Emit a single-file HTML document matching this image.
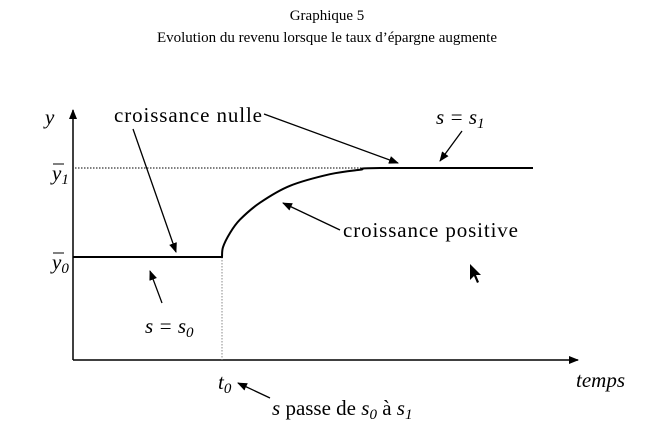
<!DOCTYPE html>
<html><head><meta charset="utf-8"><style>
body{margin:0;background:#fff}
svg text{font-family:"Liberation Serif",serif;fill:#000}
</style></head><body>
<svg width="654" height="427" xmlns="http://www.w3.org/2000/svg">
<defs><marker id="ah" markerWidth="10" markerHeight="8" refX="9" refY="4" orient="auto" markerUnits="userSpaceOnUse"><path d="M0,0 L10,4 L0,8 Z" fill="#000"/></marker></defs>
<text x="327" y="20" font-size="15" text-anchor="middle">Graphique 5</text>
<text x="327" y="42" font-size="15" text-anchor="middle">Evolution du revenu lorsque le taux d’épargne augmente</text>
<line x1="73" y1="360" x2="73" y2="110" stroke="#000" stroke-width="1.5" marker-end="url(#ah)"/>
<line x1="73" y1="360" x2="578" y2="360" stroke="#000" stroke-width="1.5" marker-end="url(#ah)"/>
<line x1="75" y1="168" x2="533" y2="168" stroke="#000" stroke-width="1" stroke-dasharray="1.5,1.5"/>
<line x1="222" y1="257" x2="222" y2="360" stroke="#888" stroke-width="1" stroke-dasharray="1.5,1.5"/>
<path id="curve" fill="none" stroke="#000" stroke-width="2"/>
<text x="45" y="124" font-size="21" font-style="italic">y</text>
<text x="52" y="180" font-size="21" font-style="italic">y<tspan font-size="15" dy="4">1</tspan></text>
<line x1="53" y1="164" x2="64" y2="164" stroke="#000" stroke-width="1"/>
<text x="52" y="269" font-size="21" font-style="italic">y<tspan font-size="15" dy="4">0</tspan></text>
<line x1="53" y1="253" x2="64" y2="253" stroke="#000" stroke-width="1"/>
<text x="218" y="389" font-size="21" font-style="italic">t<tspan font-size="15" dy="4">0</tspan></text>
<text x="576" y="387" font-size="21" font-style="italic">temps</text>
<text x="114" y="122" font-size="21" textLength="148">croissance nulle</text>
<text x="343" y="237" font-size="21" textLength="175">croissance positive</text>
<text x="436" y="124" font-size="21" font-style="italic">s = s<tspan font-size="15" dy="4">1</tspan></text>
<text x="145" y="333" font-size="21" font-style="italic">s = s<tspan font-size="15" dy="4">0</tspan></text>
<text x="272" y="415" font-size="21"><tspan font-style="italic">s</tspan> passe de <tspan font-style="italic">s</tspan><tspan font-size="15" font-style="italic" dy="4">0</tspan><tspan dy="-4"> à </tspan><tspan font-style="italic">s</tspan><tspan font-size="15" font-style="italic" dy="4">1</tspan></text>
<g stroke="#000" stroke-width="1.3" fill="none">
<line x1="133" y1="129" x2="176" y2="252" marker-end="url(#ah)"/>
<line x1="264" y1="114" x2="398" y2="163" marker-end="url(#ah)"/>
<line x1="462" y1="131" x2="440" y2="161" marker-end="url(#ah)"/>
<line x1="340" y1="230" x2="283" y2="203" marker-end="url(#ah)"/>
<line x1="162" y1="303" x2="150" y2="271" marker-end="url(#ah)"/>
<line x1="270" y1="398" x2="238" y2="383" marker-end="url(#ah)"/>
</g>
<path d="M470,264 L470,280 L474,276 L477,283 L479,282 L476,275 L481,275 Z" fill="#000"/>
</svg>
<script>
const times=[-14.9,0,0.1,0.8,1.8,3.8,6.8,10.8,13.8,15.8,31.1];
const incomes=[0,0,0.11,0.27,0.42,0.61,0.8,0.93,0.98,1,1];
const xs=t=>222+t*10;
const ys=v=>257-v*89;
const P=times.map((t,i)=>[xs(t),ys(incomes[i])]);
let d='M'+P[0][0]+','+P[0][1]+' L'+P[1][0]+','+P[1][1];
for(let i=1;i<P.length-2;i++){
  const p0=P[Math.max(i-1,1)],p1=P[i],p2=P[i+1],p3=P[i+2];
  const c1=[p1[0]+(p2[0]-p0[0])/6,p1[1]+(p2[1]-p0[1])/6];
  const c2=[p2[0]-(p3[0]-p1[0])/6,p2[1]-(p3[1]-p1[1])/6];
  d+=' C'+c1[0].toFixed(1)+','+c1[1].toFixed(1)+' '+c2[0].toFixed(1)+','+c2[1].toFixed(1)+' '+p2[0].toFixed(1)+','+p2[1].toFixed(1);
}
d+=' L'+P[P.length-1][0]+','+P[P.length-1][1];
document.getElementById('curve').setAttribute('d',d);
</script>
</body></html>
